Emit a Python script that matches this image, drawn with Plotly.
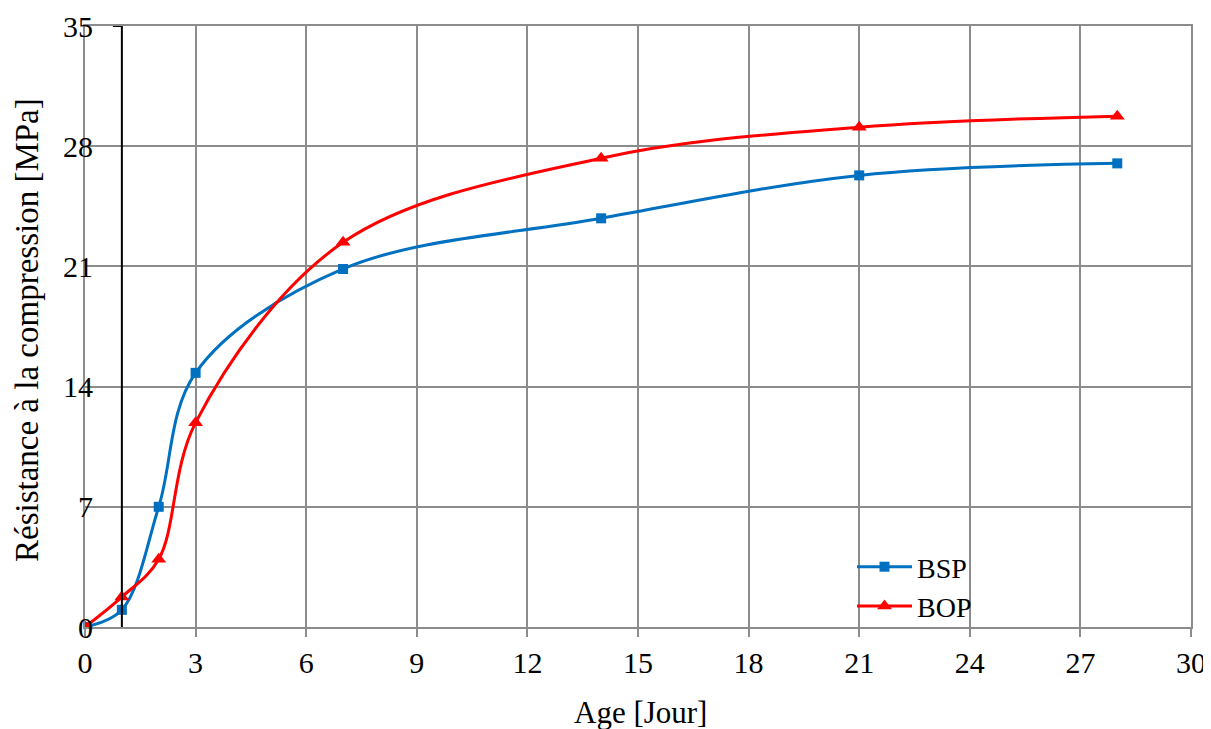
import plotly.graph_objects as go

age = [0, 1, 2, 3, 7, 14, 21, 28]
bsp = [0, 1.0, 7.0, 14.8, 20.85, 23.8, 26.3, 27.0]
bop = [0, 1.75, 3.95, 11.9, 22.4, 27.3, 29.1, 29.75]

x_ticks = [0, 3, 6, 9, 12, 15, 18, 21, 24, 27, 30]
y_ticks = [0, 7, 14, 21, 28, 35]
y_cross = 1  # vertical axis crosses the horizontal axis at Age = 1

FONT = "'Liberation Serif', 'Times New Roman', Times, serif"
GRID = "#8c8c8c"

W, H = 1203, 721
L, R, T, B = 77, 20, 18, 102
PW, PH = W - L - R, H - T - B
X_PX = PW / 30  # pixels per day

fig = go.Figure()
fig.add_trace(go.Scatter(
    x=age, y=bsp, name="BSP", mode="lines+markers",
    line=dict(color="#0070C0", width=3, shape="spline", smoothing=1.0),
    marker=dict(symbol="square", size=10, color="#0070C0"),
))
fig.add_trace(go.Scatter(
    x=age, y=bop, name="BOP", mode="lines+markers",
    line=dict(color="#FF0000", width=3, shape="spline", smoothing=1.0),
    marker=dict(symbol="triangle-up", size=13, color="#FF0000"),
))

# vertical axis line crossing at Age = 1, with its top tick mark
fig.add_shape(type="line", xref="x", yref="y", x0=y_cross, x1=y_cross, y0=0, y1=35,
              line=dict(color="black", width=2), layer="above")
fig.add_shape(type="line", xref="x", yref="y", x0=y_cross - 9 / X_PX, x1=y_cross,
              y0=y_ticks[-1], y1=y_ticks[-1], line=dict(color="black", width=2), layer="above")

fig.update_layout(
    width=W, height=H,
    margin=dict(l=L, r=R, t=T, b=B, autoexpand=False),
    paper_bgcolor="white", plot_bgcolor="white",
    font=dict(family=FONT, size=30, color="black"),
    showlegend=True,
    legend=dict(x=(844 - L) / PW, y=(619 - 578.5) / PH, xanchor="left", yanchor="middle",
                bgcolor="rgba(0,0,0,0)", font=dict(size=28, family=FONT),
                itemwidth=55, tracegroupgap=0),
    xaxis=dict(
        range=[0, 30], tickvals=x_ticks, ticktext=[str(v) for v in x_ticks],
        showgrid=True, gridcolor=GRID, gridwidth=2,
        showline=True, linecolor=GRID, linewidth=2, mirror=True,
        ticks="outside", ticklen=8, tickcolor=GRID, tickwidth=2,
        zeroline=False, automargin=False,
        tickfont=dict(size=30, family=FONT),
    ),
    yaxis=dict(
        range=[0, 35], tickvals=y_ticks, ticktext=[str(v) for v in y_ticks],
        showgrid=True, gridcolor=GRID, gridwidth=2,
        showline=True, linecolor=GRID, linewidth=2, mirror=True,
        ticks="", zeroline=False, ticklabelstandoff=-16, automargin=False,
        tickfont=dict(size=30, family=FONT),
    ),
    annotations=[
        dict(text="Age [Jour]", xref="paper", yref="paper",
             x=(632 - L) / PW, y=(619 - 704) / PH, xanchor="center", yanchor="middle",
             showarrow=False, font=dict(size=31, family=FONT)),
        dict(text="Résistance à la compression [MPa]", xref="paper", yref="paper",
             x=(19 - L) / PW, y=(619 - 322) / PH, xanchor="center", yanchor="middle",
             textangle=-90, showarrow=False, font=dict(size=33, family=FONT)),
    ],
)

fig.write_html("out.html")
